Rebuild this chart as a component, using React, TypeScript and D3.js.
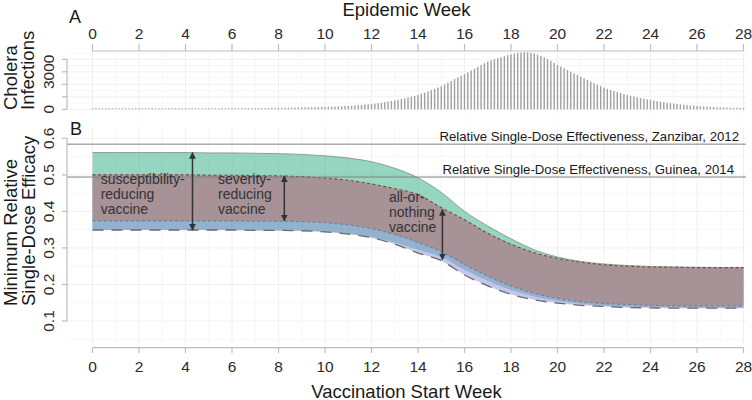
import React from 'react';
import * as d3 from 'd3';

const weeks = [0, 1, 2, 3, 4, 5, 6, 7, 8, 9, 10, 11, 12, 13, 14, 15, 16, 17, 18, 19, 20, 21, 22, 23, 24, 25, 26, 27, 28];
const upperSusc = [0.561, 0.561, 0.561, 0.561, 0.561, 0.560, 0.560, 0.559, 0.558, 0.556, 0.552, 0.546, 0.536, 0.518, 0.492, 0.452, 0.400, 0.360, 0.325, 0.295, 0.275, 0.263, 0.256, 0.252, 0.249, 0.248, 0.247, 0.246, 0.246];
const upperSev = [0.500, 0.500, 0.500, 0.500, 0.500, 0.499, 0.499, 0.498, 0.497, 0.495, 0.491, 0.485, 0.475, 0.462, 0.446, 0.410, 0.377, 0.340, 0.310, 0.287, 0.271, 0.261, 0.254, 0.250, 0.248, 0.247, 0.246, 0.246, 0.246];
const lowerSev = [0.374, 0.374, 0.374, 0.374, 0.374, 0.374, 0.374, 0.373, 0.373, 0.372, 0.369, 0.363, 0.353, 0.337, 0.315, 0.290, 0.255, 0.223, 0.196, 0.176, 0.162, 0.153, 0.148, 0.145, 0.143, 0.142, 0.141, 0.141, 0.141];
const lowerSusc = [0.349, 0.349, 0.349, 0.349, 0.349, 0.349, 0.349, 0.348, 0.348, 0.347, 0.344, 0.339, 0.330, 0.315, 0.295, 0.275, 0.240, 0.210, 0.185, 0.167, 0.155, 0.147, 0.142, 0.139, 0.138, 0.137, 0.136, 0.136, 0.136];
const lowerAon = [0.349, 0.349, 0.349, 0.349, 0.349, 0.349, 0.349, 0.348, 0.348, 0.347, 0.344, 0.338, 0.328, 0.310, 0.286, 0.265, 0.226, 0.196, 0.173, 0.158, 0.149, 0.143, 0.140, 0.137, 0.136, 0.135, 0.135, 0.135, 0.135];

// daily cholera infections, days 0..196 (7 per week)
const dailyCases = [
  20, 21, 21, 22, 22, 23, 24,
  25, 25, 26, 27, 27, 28, 29,
  30, 31, 32, 33, 34, 35, 37,
  38, 39, 40, 41, 42, 43, 44,
  45, 47, 49, 51, 53, 55, 57,
  58, 60, 62, 64, 66, 68, 69,
  70, 73, 76, 80, 83, 86, 90,
  90, 94, 97, 100, 103, 106, 108,
  110, 115, 120, 126, 131, 137, 143,
  150, 155, 160, 166, 172, 178, 184,
  190, 200, 210, 221, 232, 244, 257,
  270, 289, 309, 330, 353, 377, 400,
  420, 455, 490, 530, 575, 620, 660,
  700, 760, 820, 880, 940, 1010, 1075,
  1140, 1230, 1330, 1430, 1530, 1640, 1745,
  1850, 1990, 2130, 2270, 2410, 2550, 2690,
  2820, 2960, 3110, 3260, 3400, 3540, 3680,
  3810, 3910, 4000, 4090, 4170, 4250, 4330,
  4400, 4460, 4510, 4545, 4560, 4555, 4520,
  4460, 4380, 4280, 4160, 4020, 3880, 3700,
  3540, 3410, 3280, 3140, 3010, 2870, 2740,
  2610, 2480, 2350, 2220, 2090, 1970, 1850,
  1730, 1640, 1550, 1460, 1380, 1300, 1220,
  1150, 1085, 1020, 960, 900, 845, 790,
  740, 695, 650, 610, 570, 530, 490,
  450, 420, 390, 360, 335, 310, 285,
  260, 245, 230, 215, 200, 185, 172,
  160, 150, 140, 132, 124, 116, 108,
  100,
];

const zanzibarValue = 0.584;
const guineaValue = 0.494;
const zanzibarLabel = 'Relative Single-Dose Effectiveness, Zanzibar, 2012';
const guineaLabel = 'Relative Single-Dose Effectiveness, Guinea, 2014';

const xTicks = [0, 2, 4, 6, 8, 10, 12, 14, 16, 18, 20, 22, 24, 26, 28];
const yTicksA = [0, 1000, 2000, 3000, 4000];
const yLabelsA = ['0', '', '', '3000', ''];
const yTicksB = [0.1, 0.2, 0.3, 0.4, 0.5, 0.6];
const yGridB = [0.05, 0.1, 0.15, 0.2, 0.25, 0.3, 0.35, 0.4, 0.45, 0.5, 0.55, 0.6];
const yGridA = [0, 500, 1000, 1500, 2000, 2500, 3000, 3500, 4000, 4500];

const arrowX = [4.3, 8.25, 15.05];
const arrowTop = [0.561, 0.497, 0.405];
const arrowBottom = [0.349, 0.374, 0.268];
const bandLabels = [
  ['susceptibility-', 'reducing', 'vaccine'],
  ['severity-', 'reducing', 'vaccine'],
  ['all-or-', 'nothing', 'vaccine'],
];
const labelX = [0.35, 5.4, 12.75];
const labelY = [0.474, 0.474, 0.425];

const FONT = '"Liberation Sans", Arial, Helvetica, sans-serif';

export default function App() {
  const x = d3.scaleLinear().domain([0, 28]).range([92.5, 743.5]);
  const yA = d3.scaleLinear().domain([0, 4000]).range([109.3, 59.3]);
  const yB = d3.scaleLinear().domain([0.1, 0.6]).range([321, 138.3]);

  const panelL = 67;
  const panelR = 746;
  const aTop = 53, aBot = 113;
  const bTop = 127, bBot = 343;

  const band = (lo: number[], hi: number[]) =>
    d3.area<number>()
      .x((d) => x(d))
      .y0((_, i) => yB(lo[i]))
      .y1((_, i) => yB(hi[i]))
      .curve(d3.curveMonotoneX)(weeks) as string;
  const line = (vals: number[]) =>
    d3.line<number>()
      .x((d) => x(d))
      .y((_, i) => yB(vals[i]))
      .curve(d3.curveMonotoneX)(weeks) as string;

  const axisColor = '#bdbdbd';
  const tickColor = '#2b2b2b';
  const titleSize = 18.5;
  const tickSize = 15.5;

  return (
    <svg width={752} height={400} style={{ position: 'absolute', left: 0, top: 0, background: '#fff' }} fontFamily={FONT}>
      <defs>
        <marker id="ah" viewBox="0 0 10 10" refX="9" refY="5" markerWidth="4.5" markerHeight="4.5" orient="auto-start-reverse">
          <path d="M0,0 L10,5 L0,10 z" fill="#333" />
        </marker>
      </defs>

      {/* Titles */}
      <text x={(panelL + panelR) / 2} y={15.5} fontSize={titleSize} textAnchor="middle" fill="#1a1a1a">Epidemic Week</text>
      <text x={69} y={22.5} fontSize={18} fill="#1a1a1a">A</text>
      <text x={70} y={135} fontSize={18} fill="#1a1a1a">B</text>
      <text x={(panelL + panelR) / 2} y={397.5} fontSize={titleSize} textAnchor="middle" fill="#1a1a1a">Vaccination Start Week</text>

      <text transform="translate(16.5,110) rotate(-90)" fontSize={titleSize} fill="#1a1a1a">Cholera</text>
      <text transform="translate(33.5,110) rotate(-90)" fontSize={titleSize} fill="#1a1a1a">Infections</text>
      <text transform="translate(16.5,306) rotate(-90)" fontSize={titleSize} fill="#1a1a1a">Minimum Relative</text>
      <text transform="translate(35,306) rotate(-90)" fontSize={titleSize} fill="#1a1a1a">Single-Dose Efficacy</text>

      {/* Panel A grid */}
      {yGridA.map((v, i) => (
        <line key={'ga' + v} x1={panelL} x2={panelR} y1={yA(v)} y2={yA(v)} stroke={i % 2 === 0 ? '#ececec' : '#f5f5f5'} strokeWidth={0.8} />
      ))}
      {weeks.map((w) => (
        <line key={'gav' + w} x1={x(w)} x2={x(w)} y1={aTop} y2={aBot} stroke={w % 2 === 0 ? '#ececec' : '#f5f5f5'} strokeWidth={0.8} />
      ))}

      {/* Bars */}
      {dailyCases.map((c, d) => {
        const cx = x(d / 7);
        const top = Math.min(yA(c), yA(0) - 1);
        return <rect key={'b' + d} x={cx - 0.7} y={top} width={1.4} height={yA(0) - top} fill="#a0a0a0" />;
      })}

      {/* Top axis */}
      <line x1={x(0)} x2={x(28)} y1={51} y2={51} stroke={axisColor} strokeWidth={1.2} />
      {xTicks.map((t) => (
        <g key={'tx' + t}>
          <line x1={x(t)} x2={x(t)} y1={51} y2={44} stroke={axisColor} strokeWidth={1.2} />
          <text x={x(t)} y={38.5} fontSize={tickSize} textAnchor="middle" fill={tickColor}>{t}</text>
        </g>
      ))}

      {/* Panel A left axis */}
      <line x1={panelL} x2={panelL} y1={yA(4000)} y2={yA(0)} stroke={axisColor} strokeWidth={1.2} />
      {yTicksA.map((t, i) => (
        <g key={'ya' + t}>
          <line x1={panelL - 5} x2={panelL} y1={yA(t)} y2={yA(t)} stroke={axisColor} strokeWidth={1.2} />
          {yLabelsA[i] && (
            <text transform={`translate(${53.5},${yA(t)}) rotate(-90)`} fontSize={tickSize} textAnchor="middle" fill={tickColor}>{yLabelsA[i]}</text>
          )}
        </g>
      ))}

      {/* Panel B grid */}
      {yGridB.map((v, i) => (
        <line key={'gb' + v} x1={panelL} x2={panelR} y1={yB(v)} y2={yB(v)} stroke={i % 2 === 1 ? '#ececec' : '#f5f5f5'} strokeWidth={0.8} />
      ))}
      {weeks.map((w) => (
        <line key={'gbv' + w} x1={x(w)} x2={x(w)} y1={bTop} y2={bBot} stroke={w % 2 === 0 ? '#ececec' : '#f5f5f5'} strokeWidth={0.8} />
      ))}

      {/* Ribbons */}
      <path d={band(lowerSusc, upperSusc)} fill="#36b086" fillOpacity={0.52} />
      <path d={band(lowerAon, upperSev)} fill="#8d8dd9" fillOpacity={0.5} />
      <path d={band(lowerSev, upperSev)} fill="#bb7162" fillOpacity={0.5} />

      {/* Ribbon outlines */}
      <path d={line(upperSusc)} fill="none" stroke="#7d8a86" strokeWidth={0.8} />
      <path d={line(upperSev)} fill="none" stroke="#c9a57a" strokeWidth={0.9} />
      <path d={line(upperSev)} fill="none" stroke="#555" strokeWidth={1.1} strokeDasharray="3,2.5" />
      <path d={line(lowerSev)} fill="none" stroke="#6f7fa0" strokeWidth={1.1} strokeDasharray="3,2.5" />
      <path d={line(lowerAon)} fill="none" stroke="#6a6a6a" strokeWidth={1.3} strokeDasharray="11,8" />

      {/* Reference lines */}
      <line x1={panelL} x2={panelR} y1={yB(zanzibarValue)} y2={yB(zanzibarValue)} stroke="#808080" strokeWidth={1} />
      <line x1={panelL} x2={panelR} y1={yB(guineaValue)} y2={yB(guineaValue)} stroke="#808080" strokeWidth={1} />
      <text x={739} y={yB(zanzibarValue) - 3} fontSize={13.2} textAnchor="end" fill="#1a1a1a">{zanzibarLabel}</text>
      <text x={734} y={yB(guineaValue) - 3} fontSize={13.2} textAnchor="end" fill="#1a1a1a">{guineaLabel}</text>

      {/* Arrows */}
      {arrowX.map((a, i) => (
        <line key={'ar' + i} x1={x(a)} x2={x(a)} y1={yB(arrowTop[i])} y2={yB(arrowBottom[i])} stroke="#333" strokeWidth={1.5}
          markerStart="url(#ah)" markerEnd="url(#ah)" />
      ))}

      {/* Band labels */}
      {bandLabels.map((lines, i) => (
        <text key={'bl' + i} x={x(labelX[i])} y={yB(labelY[i])} fontSize={14} fill="#333">
          {lines.map((s, j) => (
            <tspan key={j} x={x(labelX[i])} dy={j === 0 ? 0 : 14.8}>{s}</tspan>
          ))}
        </text>
      ))}

      {/* Panel B left axis */}
      <line x1={panelL} x2={panelL} y1={yB(0.6)} y2={yB(0.1)} stroke={axisColor} strokeWidth={1.2} />
      {yTicksB.map((t) => (
        <g key={'yb' + t}>
          <line x1={panelL - 5} x2={panelL} y1={yB(t)} y2={yB(t)} stroke={axisColor} strokeWidth={1.2} />
          <text transform={`translate(${53.5},${yB(t)}) rotate(-90)`} fontSize={tickSize} textAnchor="middle" fill={tickColor}>{t.toFixed(1)}</text>
        </g>
      ))}

      {/* Bottom axis */}
      <line x1={x(0)} x2={x(28)} y1={347.7} y2={347.7} stroke={axisColor} strokeWidth={1.2} />
      {xTicks.map((t) => (
        <g key={'bx' + t}>
          <line x1={x(t)} x2={x(t)} y1={347.7} y2={353} stroke={axisColor} strokeWidth={1.2} />
          <text x={x(t)} y={372} fontSize={tickSize} textAnchor="middle" fill={tickColor}>{t}</text>
        </g>
      ))}
    </svg>
  );
}
